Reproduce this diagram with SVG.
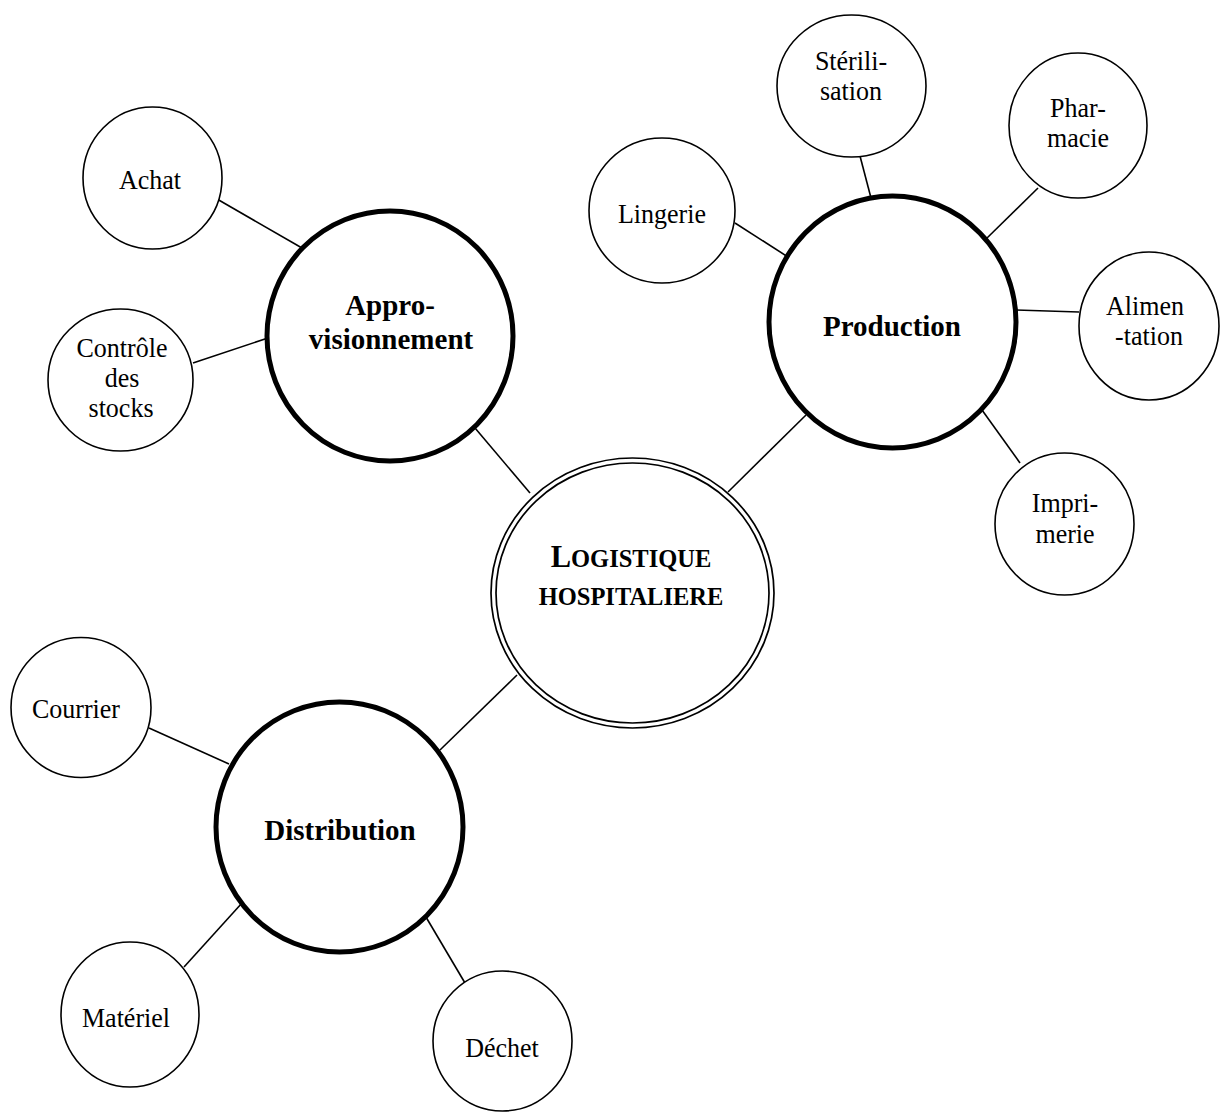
<svg xmlns="http://www.w3.org/2000/svg" width="1221" height="1114" viewBox="0 0 1221 1114">
  <style>
    .leaf { fill: #fff; stroke: #000; stroke-width: 1.6; }
    .hub { fill: #fff; stroke: #000; stroke-width: 5; }
    .ring { fill: none; stroke: #000; stroke-width: 1.7; }
    .link { stroke: #000; stroke-width: 1.6; fill: none; }
    text { font-family: "Liberation Serif", "Times New Roman", serif; fill: #000; text-anchor: middle; }
    .lbl { font-size: 26px; }
    .hubl { font-size: 29px; font-weight: bold; }
    .core { font-weight: bold; font-size: 24.5px; }
  </style>
  <rect width="1221" height="1114" fill="#fff"/>

  <!-- connectors -->
  <g id="connectors">
    <line class="link" x1="217" y1="199" x2="302" y2="248"/>
    <line class="link" x1="193" y1="363" x2="277" y2="335"/>
    <line class="link" x1="475" y1="428" x2="530" y2="493"/>
    <line class="link" x1="735" y1="223" x2="788" y2="257"/>
    <line class="link" x1="860" y1="156" x2="871" y2="198"/>
    <line class="link" x1="1038" y1="188" x2="986" y2="239"/>
    <line class="link" x1="1016" y1="310" x2="1079" y2="312"/>
    <line class="link" x1="982" y1="410" x2="1020" y2="463"/>
    <line class="link" x1="806" y1="415" x2="728" y2="492"/>
    <line class="link" x1="517" y1="675" x2="440" y2="750"/>
    <line class="link" x1="149" y1="728" x2="229" y2="764"/>
    <line class="link" x1="184" y1="967" x2="242" y2="903"/>
    <line class="link" x1="423" y1="912" x2="465" y2="983"/>
  </g>

  <!-- central node: double ring -->
  <g id="logistique">
    <ellipse cx="632.5" cy="593" rx="141.5" ry="135" fill="#fff" stroke="none"/>
    <ellipse class="ring" cx="632.5" cy="593" rx="141.5" ry="135"/>
    <ellipse class="ring" cx="632.5" cy="593" rx="136.5" ry="130"/>
    <text class="core" x="631" y="567"><tspan font-size="30.5px">L</tspan>OGISTIQUE</text>
    <text class="core" x="631" y="605">HOSPITALIERE</text>
  </g>

  <!-- branch hubs -->
  <g id="approvisionnement">
    <ellipse class="hub" cx="390" cy="336" rx="123" ry="125"/>
    <text class="hubl" x="390" y="315">Appro-</text>
    <text class="hubl" x="391" y="349">visionnement</text>
  </g>
  <g id="production">
    <ellipse class="hub" cx="892.5" cy="322" rx="123.5" ry="126"/>
    <text class="hubl" x="892" y="336">Production</text>
  </g>
  <g id="distribution">
    <ellipse class="hub" cx="339.5" cy="827" rx="123.5" ry="125"/>
    <text class="hubl" x="340" y="840">Distribution</text>
  </g>

  <!-- leaf labels are set slightly tall: translate to baseline, then stretch -->
  <!-- leaves of Approvisionnement -->
  <g id="achat">
    <ellipse class="leaf" cx="152.5" cy="178" rx="69.5" ry="71"/>
    <text class="lbl" transform="translate(150,189) scale(1,1.06)">Achat</text>
  </g>
  <g id="controle">
    <ellipse class="leaf" cx="120.5" cy="380" rx="72.5" ry="71"/>
    <text class="lbl" transform="translate(122,357) scale(1,1.06)">Contrôle</text>
    <text class="lbl" transform="translate(122,387) scale(1,1.06)">des</text>
    <text class="lbl" transform="translate(121,417) scale(1,1.06)">stocks</text>
  </g>

  <!-- leaves of Production -->
  <g id="lingerie">
    <ellipse class="leaf" cx="662" cy="210.5" rx="73" ry="72.5"/>
    <text class="lbl" transform="translate(662,223) scale(1,1.06)">Lingerie</text>
  </g>
  <g id="sterilisation">
    <ellipse class="leaf" cx="851.5" cy="86" rx="74.5" ry="71"/>
    <text class="lbl" transform="translate(851,70) scale(1,1.06)">Stérili-</text>
    <text class="lbl" transform="translate(851,100) scale(1,1.06)">sation</text>
  </g>
  <g id="pharmacie">
    <ellipse class="leaf" cx="1078" cy="125.5" rx="69" ry="72.5"/>
    <text class="lbl" transform="translate(1078,117) scale(1,1.06)">Phar-</text>
    <text class="lbl" transform="translate(1078,147) scale(1,1.06)">macie</text>
  </g>
  <g id="alimentation">
    <ellipse class="leaf" cx="1149" cy="326" rx="70" ry="74"/>
    <text class="lbl" transform="translate(1145,315) scale(1,1.06)">Alimen</text>
    <text class="lbl" transform="translate(1149,345) scale(1,1.06)">-tation</text>
  </g>
  <g id="imprimerie">
    <ellipse class="leaf" cx="1064.5" cy="524" rx="69.5" ry="71"/>
    <text class="lbl" transform="translate(1065,512) scale(1,1.06)">Impri-</text>
    <text class="lbl" transform="translate(1065,543) scale(1,1.06)">merie</text>
  </g>

  <!-- leaves of Distribution -->
  <g id="courrier">
    <ellipse class="leaf" cx="81" cy="707.5" rx="70" ry="70"/>
    <text class="lbl" transform="translate(76,718) scale(1,1.06)">Courrier</text>
  </g>
  <g id="materiel">
    <ellipse class="leaf" cx="130" cy="1014.5" rx="69" ry="72.5"/>
    <text class="lbl" transform="translate(126,1027) scale(1,1.06)">Matériel</text>
  </g>
  <g id="dechet">
    <ellipse class="leaf" cx="502.5" cy="1041" rx="69.5" ry="70"/>
    <text class="lbl" transform="translate(502,1057) scale(1,1.06)">Déchet</text>
  </g>
</svg>
